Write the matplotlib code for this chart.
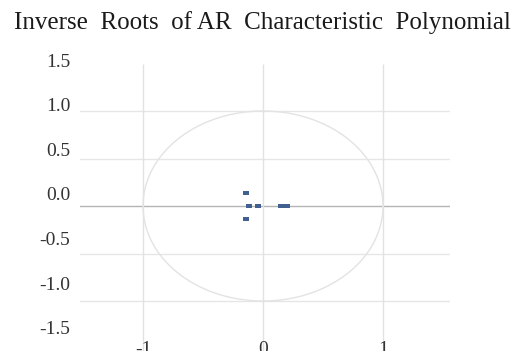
import numpy as np
import matplotlib
matplotlib.use("Agg")
import matplotlib.pyplot as plt
from matplotlib.path import Path

# inverse roots (real, imaginary)
root_re = [-0.14, -0.14, -0.12, -0.04, 0.146, 0.196]
root_im = [0.137, -0.137, 0.0, 0.0, 0.0, 0.0]

x_ticks = [-1, 0, 1]
x_labels = ["-1", "0", "1"]
y_ticks = [1.5, 1.0, 0.5, 0.0, -0.5, -1.0, -1.5]
y_labels = ["1.5", "1.0", "0.5", "0.0", "-0.5", "-1.0", "-1.5"]
grid_y = [1.0, 0.5, -0.5, -1.0]

W, H = 518, 351
fig = plt.figure(figsize=(W / 100, H / 100), dpi=100)
serif = ["Liberation Serif", "DejaVu Serif"]

# axes box in pixels
left, right, top, bottom = 80, 450, 55, 340
ax = fig.add_axes([left / W, 1 - bottom / H, (right - left) / W, (bottom - top) / H])
ax.set_xlim((left - 263) / 120, (right - 263) / 120)
ax.set_ylim((206 - bottom) / 95, (206 - top) / 95)
for s in ax.spines.values():
    s.set_visible(False)

# grid
for g in grid_y:
    ax.axhline(g, color="#e6e6e6", lw=1.0, zorder=1)
ax.axhline(0, color="#b4b4b4", lw=1.0, zorder=1)
ax.vlines(x_ticks, (206 - 351) / 95, 1.5, color="#e2e2e2", lw=1.0, zorder=1,
          clip_on=False)

# unit circle
t = np.linspace(0, 2 * np.pi, 400)
ax.plot(np.cos(t), np.sin(t), color="#e3e3e3", lw=1.0, zorder=2)

# roots
rect = Path([(-1, -0.6), (1, -0.6), (1, 0.6), (-1, 0.6), (-1, -0.6)],
            [Path.MOVETO, Path.LINETO, Path.LINETO, Path.LINETO, Path.CLOSEPOLY])
ax.plot(root_re, root_im, linestyle="none", marker=rect, markersize=5,
        color="#41608f", markeredgewidth=0, zorder=3)

ax.set_xticks(x_ticks)
ax.set_xticklabels(x_labels, fontsize=14, family=serif, color="#333333")
ax.tick_params(axis="x", length=0, pad=1)
ax.set_yticks([])

# y labels on their own scale (as in the original image)
ay = ax.twinx()
ay.set_ylim((194 - bottom) / 89.3, (194 - top) / 89.3)
ay.yaxis.tick_left()
ay.set_yticks(y_ticks)
ay.set_yticklabels(y_labels, fontsize=14, family=serif, color="#333333")
ay.tick_params(axis="y", length=0, pad=7)
for s in ay.spines.values():
    s.set_visible(False)

fig.text(262 / W, 1 - 23 / H,
         "Inverse  Roots  of AR  Characteristic  Polynomial",
         ha="center", va="center", fontsize=18, family=serif, color="#1a1a1a")

fig.savefig("out.png", dpi=100)
